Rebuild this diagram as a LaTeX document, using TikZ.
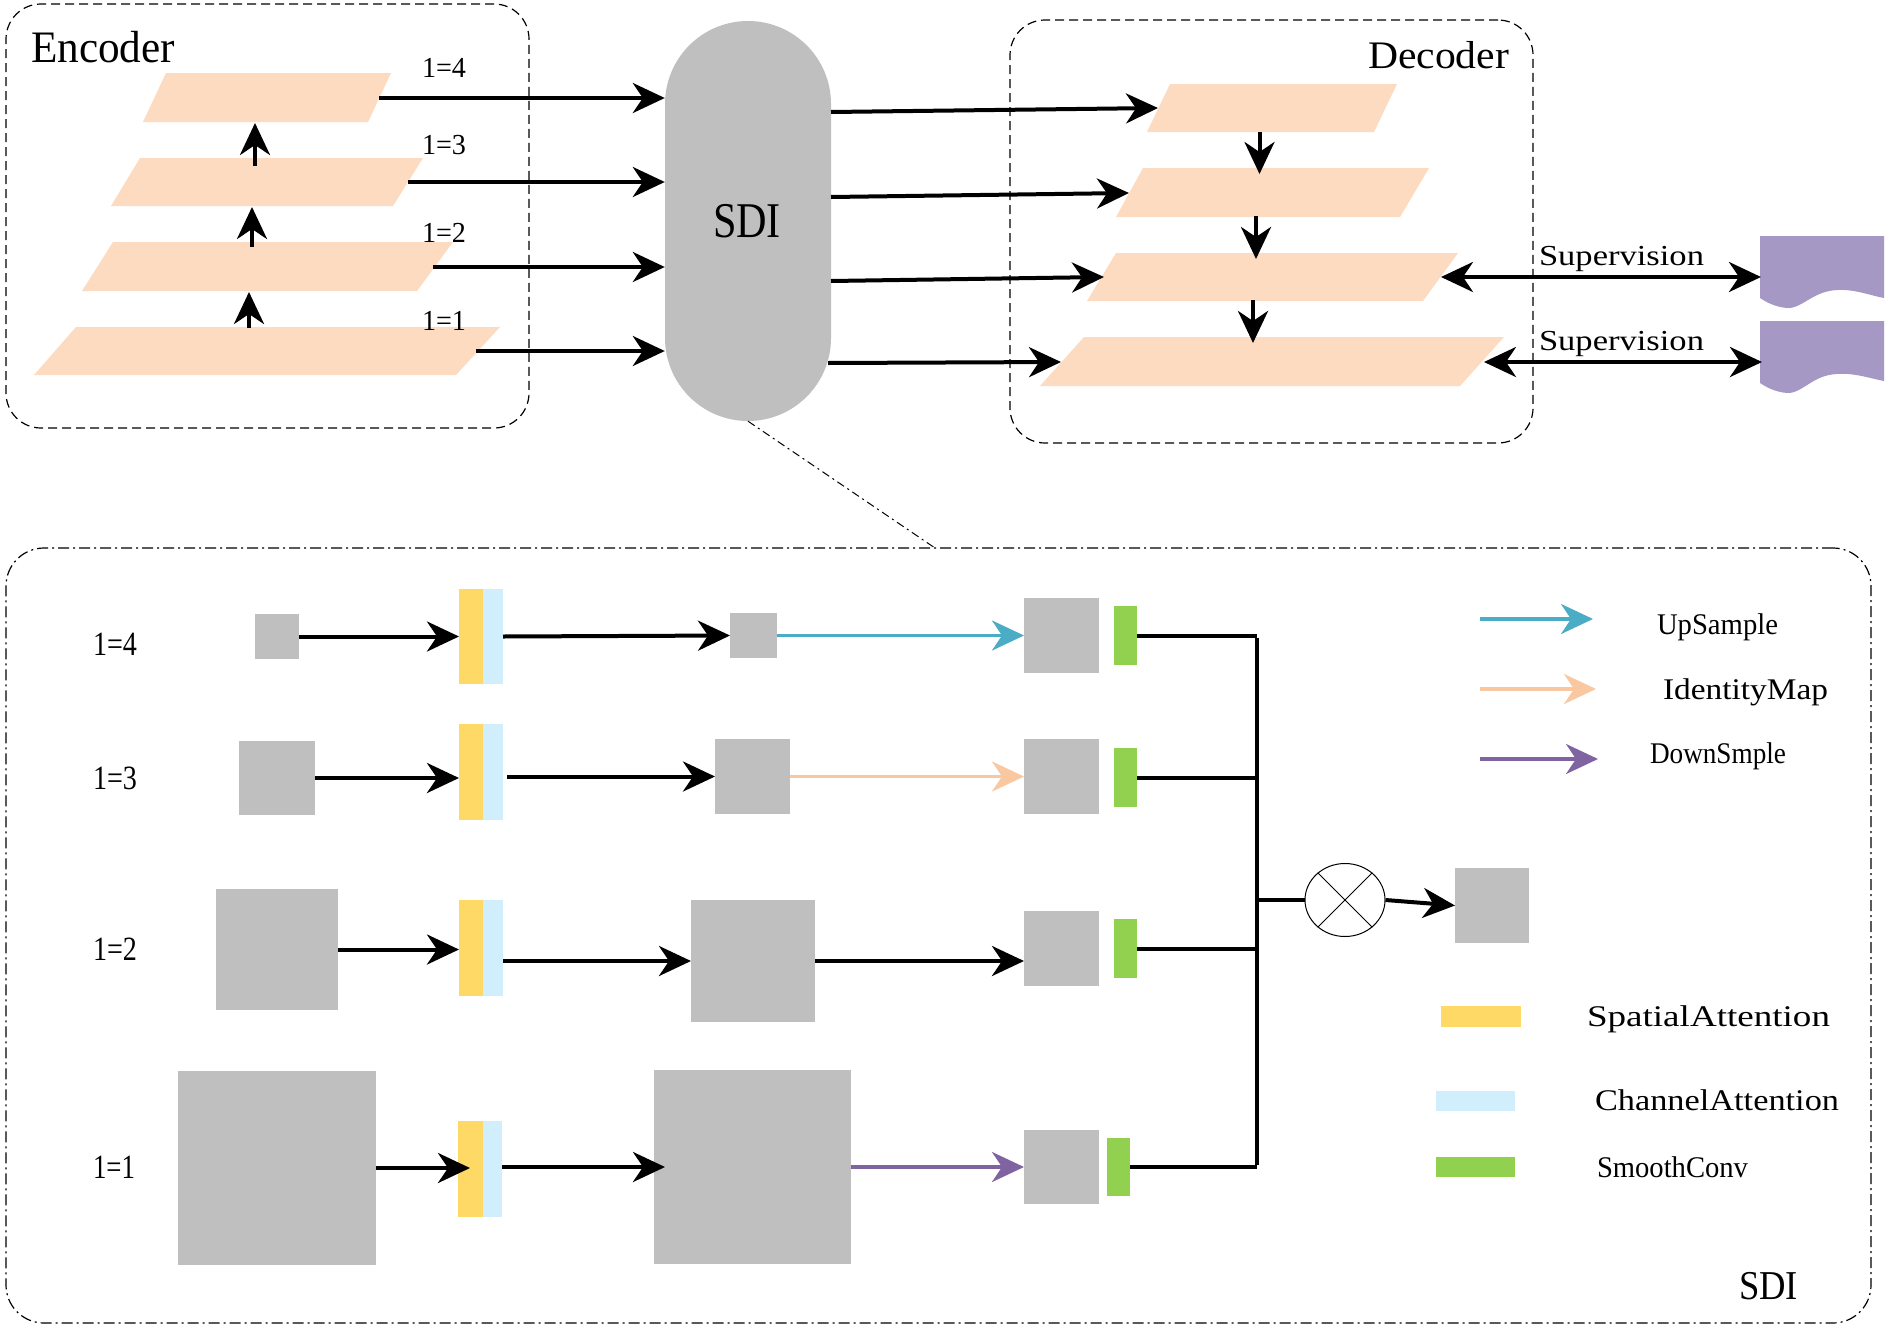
\documentclass[tikz,border=0pt]{standalone}
\usepackage{fontspec}
\setmainfont{Liberation Serif}
\usepackage{graphicx}
\usetikzlibrary{arrows.meta,shapes.geometric}
\definecolor{boxgray}{RGB}{191,191,191}
\definecolor{peach}{RGB}{253,219,192}
\definecolor{attyel}{RGB}{255,217,102}
\definecolor{attblue}{RGB}{208,238,252}
\definecolor{smgreen}{RGB}{146,208,80}
\definecolor{upcyan}{RGB}{75,172,198}
\definecolor{idpeach}{RGB}{250,200,160}
\definecolor{dnpurple}{RGB}{128,100,162}
\definecolor{docpurple}{RGB}{166,152,196}
\newcommand\fitlbl[3]{\resizebox{#1pt}{\height}{\fontsize{#2}{#2}\selectfont #3}}
\tikzset{
  lbl/.style={anchor=base west, inner sep=0pt, outer sep=0pt},
  tipk/.tip={Stealth[length=32pt,width=30pt,inset=10pt]},
  arr/.style={line width=4pt, -tipk},
  carr/.style={line width=3.5pt, -tipk},
  darr/.style={line width=4pt, tipk-tipk},
  cline/.style={line width=4pt},
  gsq/.style={fill=boxgray, draw=none, inner sep=0pt, outer sep=0pt},
  bar/.style={draw=none, inner sep=0pt, outer sep=0pt, minimum width=#1},
  dbox/.style={draw=black, line width=1.2pt, dash pattern=on 9pt off 5pt, rounded corners=35pt, inner sep=0pt},
  ddbox/.style={draw=black, line width=1.2pt, dash pattern=on 11pt off 4pt on 2pt off 4pt, rounded corners=38pt, inner sep=0pt},
}
\begin{document}
\begin{tikzpicture}[x=1pt,y=-1pt]
\fill[white] (0,0) rectangle (1888,1328);
\useasboundingbox (0,0) rectangle (1888,1328);

% ---------- Encoder ----------
\node[dbox, minimum width=523pt, minimum height=424pt] (encbox) at (267.5,216) {};
\node[lbl] (enct) at (31,62) {\fitlbl{144}{45}{Encoder}};
\fill[peach] (166,73) -- (391,73) -- (368,122) -- (143,122) -- cycle;
\fill[peach] (140,158) -- (423,158) -- (393,206) -- (111,206) -- cycle;
\fill[peach] (113,242) -- (453,242) -- (417,291) -- (82,291) -- cycle;
\fill[peach] (76,327) -- (500,327) -- (456,375) -- (34,375) -- cycle;
\coordinate (u3a) at (255,166); \coordinate (u3b) at (255,123);
\coordinate (u2a) at (252,247); \coordinate (u2b) at (252,207);
\coordinate (u1a) at (249,328); \coordinate (u1b) at (249,292);
\draw[arr] (u3a) -- (u3b);
\draw[arr] (u2a) -- (u2b);
\draw[arr] (u1a) -- (u1b);
\node[lbl] (el4) at (422,77) {\fitlbl{44}{29}{1=4}};
\node[lbl] (el3) at (422,154) {\fitlbl{44}{29}{1=3}};
\node[lbl] (el2) at (422,242) {\fitlbl{44}{29}{1=2}};
\node[lbl] (el1) at (422,330) {\fitlbl{44}{29}{1=1}};

% ---------- SDI pill ----------
\node[fill=boxgray, draw=none, rounded corners=83pt, minimum width=166pt, minimum height=400pt, inner sep=0pt] (sdi) at (748,221) {};
\node[lbl] (sdit) at (713,237) {\fitlbl{68}{50}{SDI}};
\coordinate (e4) at (379,98);
\coordinate (e3) at (408,182);
\coordinate (e2) at (433,267);
\coordinate (e1) at (476,351);
\draw[arr] (e4) -- (e4 -| sdi.west);
\draw[arr] (e3) -- (e3 -| sdi.west);
\draw[arr] (e2) -- (e2 -| sdi.west);
\draw[arr] (e1) -- (e1 -| sdi.west);

% ---------- Decoder ----------
\node[dbox, minimum width=523pt, minimum height=423pt] (decbox) at (1271.5,231.5) {};
\node[lbl] (dect) at (1368,68) {\fitlbl{141}{39}{Decoder}};
\fill[peach] (1170,84) -- (1397,84) -- (1374,132) -- (1147,132) -- cycle;
\fill[peach] (1143,168) -- (1429,168) -- (1400,217) -- (1116,217) -- cycle;
\fill[peach] (1116,253) -- (1458,253) -- (1423,301) -- (1087,301) -- cycle;
\fill[peach] (1084,337) -- (1504,337) -- (1460,386) -- (1040,386) -- cycle;
\coordinate (s1) at (831,112); \coordinate (d1) at (1158,108);
\coordinate (s2) at (831,197); \coordinate (d2) at (1129,193);
\coordinate (s3) at (831,281); \coordinate (d3) at (1104,277);
\coordinate (s4) at (828,363); \coordinate (d4) at (1061,362);
\draw[arr] (s1) -- (d1);
\draw[arr] (s2) -- (d2);
\draw[arr] (s3) -- (d3);
\draw[arr] (s4) -- (d4);
\coordinate (v1a) at (1259.5,132); \coordinate (v1b) at (1259.5,174);
\coordinate (v2a) at (1256,216); \coordinate (v2b) at (1256,259);
\coordinate (v3a) at (1253,300); \coordinate (v3b) at (1253,343);
\draw[arr] (v1a) -- (v1b);
\draw[arr] (v2a) -- (v2b);
\draw[arr] (v3a) -- (v3b);

% ---------- Supervision ----------
\fill[docpurple] (1760,236) -- (1884,236) -- (1884,298)
  .. controls (1868,295) and (1850,287) .. (1829,291)
  .. controls (1810,295) and (1800,309) .. (1787,308)
  .. controls (1775,307) and (1766,302) .. (1760,298) -- cycle;
\fill[docpurple] (1760,321) -- (1884,321) -- (1884,381)
  .. controls (1868,378) and (1850,371) .. (1829,375)
  .. controls (1810,379) and (1800,394) .. (1787,393)
  .. controls (1775,392) and (1766,387) .. (1760,383) -- cycle;
\coordinate (sa1) at (1441,277); \coordinate (sa2) at (1761,277);
\coordinate (sb1) at (1484,362); \coordinate (sb2) at (1762,362);
\draw[darr] (sa1) -- (sa2);
\draw[darr] (sb1) -- (sb2);
\node[lbl] (sup1) at (1539,265) {\fitlbl{165}{29}{Supervision}};
\node[lbl] (sup2) at (1539,350) {\fitlbl{165}{29}{Supervision}};

% ---------- SDI detail box ----------
\node[ddbox, minimum width=1865pt, minimum height=775pt] (bigbox) at (938.5,935.5) {};
\coordinate (bt) at (935,548);
\draw[line width=1pt, dash pattern=on 8pt off 4pt on 2pt off 4pt] (sdi.south) -- (bt);

% row labels
\node[lbl] (rl4) at (93,655) {\fitlbl{44}{34}{1=4}};
\node[lbl] (rl3) at (93,789) {\fitlbl{44}{34}{1=3}};
\node[lbl] (rl2) at (93,960) {\fitlbl{44}{34}{1=2}};
\node[lbl] (rl1) at (93,1178) {\fitlbl{42}{34}{1=1}};

% row 4
\node[gsq, minimum width=44pt, minimum height=45pt] (in4) at (277,636.5) {};
\node[bar=24pt, fill=attyel, minimum height=95pt] (a4y) at (471,636.5) {};
\node[bar=20pt, fill=attblue, minimum height=95pt] (a4b) at (493,636.5) {};
\node[gsq, minimum width=47pt, minimum height=45pt] (mid4) at (753.5,635.5) {};
\node[gsq, minimum width=75pt, minimum height=75pt] (out4) at (1061.5,635.5) {};
\node[bar=23pt, fill=smgreen, minimum height=59pt] (g4) at (1125.5,635.5) {};
% row 3
\node[gsq, minimum width=76pt, minimum height=74pt] (in3) at (277,778) {};
\node[bar=24pt, fill=attyel, minimum height=96pt] (a3y) at (471,772) {};
\node[bar=20pt, fill=attblue, minimum height=96pt] (a3b) at (493,772) {};
\node[gsq, minimum width=75pt, minimum height=75pt] (mid3) at (752.5,776.5) {};
\node[gsq, minimum width=75pt, minimum height=75pt] (out3) at (1061.5,776.5) {};
\node[bar=23pt, fill=smgreen, minimum height=59pt] (g3) at (1125.5,777.5) {};
% row 2
\node[gsq, minimum width=122pt, minimum height=121pt] (in2) at (277,949.5) {};
\node[bar=24pt, fill=attyel, minimum height=96pt] (a2y) at (471,948) {};
\node[bar=20pt, fill=attblue, minimum height=96pt] (a2b) at (493,948) {};
\node[gsq, minimum width=124pt, minimum height=122pt] (mid2) at (753,961) {};
\node[gsq, minimum width=75pt, minimum height=75pt] (out2) at (1061.5,948.5) {};
\node[bar=23pt, fill=smgreen, minimum height=59pt] (g2) at (1125.5,948.5) {};
% row 1
\node[gsq, minimum width=198pt, minimum height=194pt] (in1) at (277,1168) {};
\node[bar=25pt, fill=attyel, minimum height=96pt] (a1y) at (470.5,1169) {};
\node[bar=19pt, fill=attblue, minimum height=96pt] (a1b) at (492.5,1169) {};
\node[gsq, minimum width=197pt, minimum height=194pt] (mid1) at (752.5,1167) {};
\node[gsq, minimum width=75pt, minimum height=74pt] (out1) at (1061.5,1167) {};
\node[bar=23pt, fill=smgreen, minimum height=58pt] (g1) at (1118.5,1167) {};

% row arrows
\draw[arr] (in4.east) -- (in4.east -| a4y.west);
\draw[arr] (a4b.east) -- (mid4.west);
\draw[carr, upcyan] (mid4.east) -- (out4.west);
\draw[arr] (in3.east) -- (in3.east -| a3y.west);
\draw[arr] ([xshift=4pt]a3b.east |- mid3.west) -- (mid3.west);
\draw[carr, idpeach] (mid3.east) -- (mid3.east -| out3.west);
\draw[arr] (in2.east) -- (in2.east -| a2y.west);
\draw[arr] (a2b.east |- mid2.west) -- (mid2.west);
\draw[arr] (mid2.east) -- (mid2.east -| out2.west);
\coordinate (t1a) at (470,1168);
\coordinate (t1b) at (665,1167);
\draw[arr] (in1.east) -- (t1a);
\draw[arr] (a1b.east |- t1b) -- (t1b);
\draw[carr, dnpurple] (mid1.east) -- (out1.west);

% bus
\coordinate (bustop) at (1256.5,635.5);
\coordinate (busbot) at (1256.5,1167);
\draw[cline] (g4.east) -- (bustop);
\draw[cline] (g3.east) -- (g3.east -| bustop);
\draw[cline] (g2.east) -- (g2.east -| bustop);
\draw[cline] (g1.east) -- (busbot);
\draw[cline] ([yshift=-2pt]bustop) -- ([yshift=2pt]busbot);

\node[draw=black, line width=1pt, ellipse, fill=white, minimum width=80pt, minimum height=73pt, inner sep=0pt] (mul) at (1345,900) {};
\draw[line width=0.8pt] (mul.45) -- (mul.225);
\draw[line width=0.8pt] (mul.135) -- (mul.315);
\draw[cline] (mul.west -| bustop) -- (mul.west);
\node[gsq, minimum width=74pt, minimum height=75pt] (res) at (1492,905.5) {};
\draw[arr] (mul.east) -- (res.west);

% legend
\coordinate (lu1) at (1480,619); \coordinate (lu2) at (1593,619);
\coordinate (li1) at (1480,689); \coordinate (li2) at (1596,689);
\coordinate (ld1) at (1480,759); \coordinate (ld2) at (1598,759);
\draw[carr, upcyan] (lu1) -- (lu2);
\draw[carr, idpeach] (li1) -- (li2);
\draw[carr, dnpurple] (ld1) -- (ld2);
\node[lbl] (lut) at (1657,634) {\fitlbl{121}{30}{UpSample}};
\node[lbl] (lit) at (1663,699) {\fitlbl{165}{30}{IdentityMap}};
\node[lbl] (ldt) at (1650,763) {\fitlbl{136}{30}{DownSmple}};

\node[bar=80pt, fill=attyel, minimum height=21pt] (ly) at (1481,1016.5) {};
\node[bar=79pt, fill=attblue, minimum height=20pt] (lb) at (1475.5,1101) {};
\node[bar=79pt, fill=smgreen, minimum height=20pt] (lg) at (1475.5,1167) {};
\node[lbl] (lyt) at (1587,1026) {\fitlbl{243}{30}{SpatialAttention}};
\node[lbl] (lbt) at (1595,1110) {\fitlbl{244}{30}{ChannelAttention}};
\node[lbl] (lgt) at (1597,1177) {\fitlbl{151}{30}{SmoothConv}};

\node[lbl] (sdib) at (1739,1299) {\fitlbl{59}{41}{SDI}};
\end{tikzpicture}
\end{document}
